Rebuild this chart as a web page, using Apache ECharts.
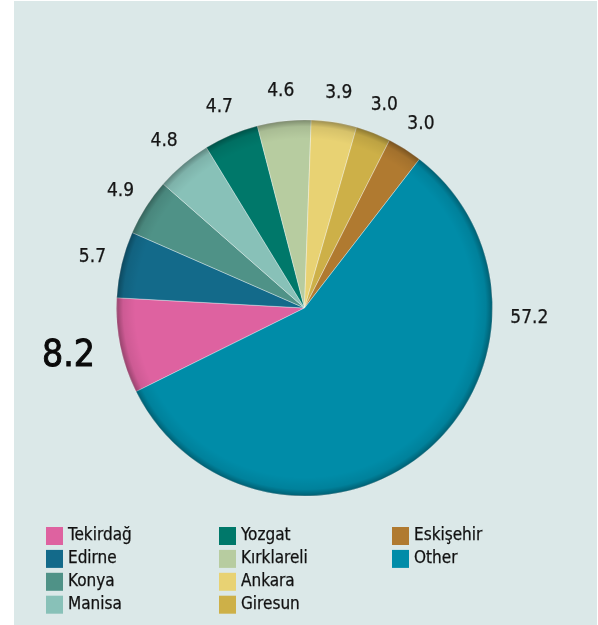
<!DOCTYPE html>
<html>
<head>
<meta charset="utf-8">
<script src="https://cdn.jsdelivr.net/npm/echarts@6/dist/echarts.min.js"></script>
<style>
  html, body { margin: 0; padding: 0; background: #ffffff; }
  #chart { width: 598px; height: 625px; }
</style>
</head>
<body>
<div id="chart"></div>
<script>
// Share of production by province (%)
const provinces = ['Tekirdağ', 'Edirne', 'Konya', 'Manisa', 'Yozgat', 'Kırklareli', 'Ankara', 'Giresun', 'Eskişehir', 'Other'];
const shares = [8.2, 5.7, 4.9, 4.8, 4.7, 4.6, 3.9, 3.0, 3.0, 57.2];
const sliceColors = ['#de62a0', '#136a8a', '#4f9287', '#88c1b8', '#00786a', '#b7cca0', '#e8d273', '#cdb048', '#b07a30', '#008ca8'];
const legendColumns = [
  ['Tekirdağ', 'Edirne', 'Konya', 'Manisa'],
  ['Yozgat', 'Kırklareli', 'Ankara', 'Giresun'],
  ['Eskişehir', 'Other']
];
const highlighted = 'Tekirdağ';

const FONT = '"DejaVu Sans Condensed", "Liberation Sans Narrow", sans-serif';
const CX = 304.5, CY = 308, R = 188;
const START_ANGLE = 206.4;

// mid angle of each slice (degrees, counter-clockwise from 3 o'clock)
const total = shares.reduce((a, b) => a + b, 0);
const midAngles = [];
let acc = 0;
shares.forEach(v => {
  const span = v / total * 360;
  midAngles.push(START_ANGLE - acc - span / 2);
  acc += span;
});

const chart = echarts.init(document.getElementById('chart'), null, { renderer: 'canvas' });

const legends = legendColumns.map((col, i) => ({
  data: col,
  orient: 'vertical',
  left: [46, 219, 392][i],
  top: 527,
  padding: 0,
  itemWidth: 17,
  itemHeight: 18,
  itemGap: 4.9,
  icon: 'rect',
  selectedMode: false,
  itemStyle: { borderWidth: 0 },
  textStyle: {
    fontFamily: FONT, fontSize: 17, color: '#111111',
    textBorderColor: '#111111', textBorderWidth: 0.25,
    padding: [1, 0, 0, 0]
  }
}));

chart.setOption({
  backgroundColor: '#ffffff',
  animation: false,
  graphic: [{
    type: 'rect',
    z: -10,
    shape: { x: 14, y: 1, width: 583, height: 624 },
    style: { fill: '#dbe8e8' },
    silent: true
  }],
  legend: legends,
  series: [
    {
      type: 'pie',
      center: [CX, CY],
      radius: R,
      startAngle: START_ANGLE,
      clockwise: true,
      avoidLabelOverlap: false,
      data: provinces.map((name, i) => ({
        name: name,
        value: shares[i],
        itemStyle: { color: sliceColors[i] },
        label: name === highlighted
          ? { fontSize: 37, color: '#0a0a0a', textBorderColor: '#0a0a0a', textBorderWidth: 0.9 }
          : {}
      })),
      itemStyle: { borderColor: 'rgba(255,255,255,0.45)', borderWidth: 0.8 },
      label: {
        show: true,
        position: 'outside',
        fontFamily: FONT,
        fontSize: 19,
        color: '#151515',
        textBorderColor: '#151515',
        textBorderWidth: 0.25,
        formatter: p => p.value.toFixed(1)
      },
      labelLine: { show: false },
      labelLayout: function (params) {
        const i = params.dataIndex;
        let ang = midAngles[i];
        let dist = R + 30;
        if (shares[i] / total > 0.5) { ang = -2.5; dist = R + 37; }
        if (provinces[i] === highlighted) dist = R + 53;
        const rad = ang * Math.PI / 180;
        return {
          x: CX + dist * Math.cos(rad),
          y: CY - dist * Math.sin(rad),
          align: 'center',
          verticalAlign: 'middle'
        };
      },
      emphasis: { disabled: true }
    },
    {
      // soft inner shading along the rim of the pie
      type: 'pie',
      center: [CX, CY],
      radius: R,
      silent: true,
      label: { show: false },
      labelLine: { show: false },
      z: 5,
      data: [{
        name: 'rim',
        value: 1,
        itemStyle: {
          color: {
            type: 'radial', x: 0.5, y: 0.5, r: 0.5,
            colorStops: [
              { offset: 0, color: 'rgba(0,0,0,0)' },
              { offset: 0.9, color: 'rgba(0,0,0,0)' },
              { offset: 0.965, color: 'rgba(0,0,0,0.08)' },
              { offset: 1, color: 'rgba(0,0,0,0.32)' }
            ]
          }
        }
      }],
      emphasis: { disabled: true }
    }
  ]
});
</script>
</body>
</html>
